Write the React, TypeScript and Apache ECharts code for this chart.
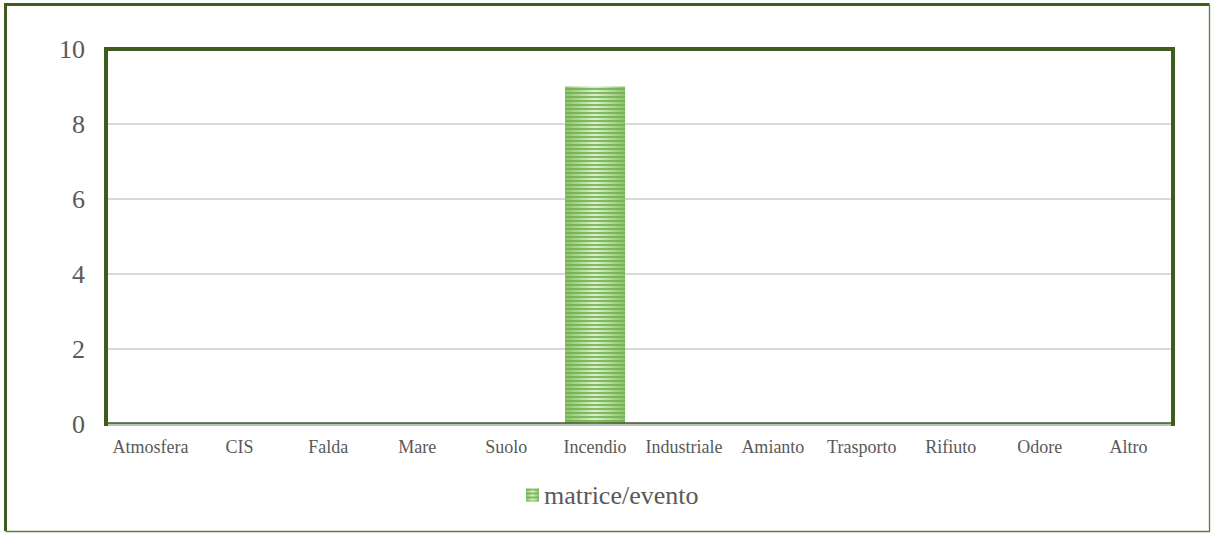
import React, { useEffect, useRef } from "react";
import * as echarts from "echarts";

const categories = [
  "Atmosfera", "CIS", "Falda", "Mare", "Suolo", "Incendio",
  "Industriale", "Amianto", "Trasporto", "Rifiuto", "Odore", "Altro",
];
const values = [0, 0, 0, 0, 0, 9, 0, 0, 0, 0, 0, 0];
const seriesName = "matrice/evento";
const yTicks = [0, 2, 4, 6, 8, 10];

const FONT = "Times New Roman, Liberation Serif, DejaVu Serif, serif";
const DARK_GREEN = "#3d5c1e";
const TEXT = "#595959";

export default function App() {
  const ref = useRef<HTMLDivElement>(null);

  useEffect(() => {
    if (!ref.current) return;
    const chart = echarts.init(ref.current, null, { renderer: "svg" });

    // light centre, darker edges, overlaid with thin horizontal stripes
    const barFill = new echarts.graphic.LinearGradient(0, 0, 1, 0, [
      { offset: 0, color: "#8cc46b" },
      { offset: 0.5, color: "#dcf0cf" },
      { offset: 1, color: "#8cc46b" },
    ]);

    chart.setOption({
      animation: false,
      backgroundColor: "#ffffff",
      textStyle: { fontFamily: FONT },
      grid: { left: 106, right: 38, top: 49, bottom: 109, show: false },
      legend: {
        data: [seriesName],
        left: 521,
        top: 477,
        icon: "rect",
        itemWidth: 13,
        itemHeight: 13,
        textStyle: { fontFamily: FONT, fontSize: 26, color: TEXT },
      },
      xAxis: {
        type: "category",
        data: categories,
        axisLine: { show: true, lineStyle: { color: "#bfbfbf", width: 3 } },
        axisTick: { show: false },
        axisLabel: {
          fontFamily: FONT,
          fontSize: 18,
          color: TEXT,
          margin: 14,
          interval: 0,
        },
      },
      yAxis: {
        type: "value",
        min: yTicks[0],
        max: yTicks[yTicks.length - 1],
        interval: 2,
        axisLine: { show: false },
        axisTick: { show: false },
        splitLine: { lineStyle: { color: "#d9d9d9", width: 2 } },
        axisLabel: { fontFamily: FONT, fontSize: 26, color: TEXT, margin: 21 },
      },
      series: [
        {
          name: seriesName,
          type: "bar",
          data: values,
          barWidth: 60,
          itemStyle: {
            color: barFill,
            decal: {
              symbol: "rect",
              symbolSize: 1,
              dashArrayX: [1, 0],
              dashArrayY: [2, 1.4],
              rotation: 0,
              color: "rgba(110, 175, 72, 0.8)",
            },
          },
        },
      ],
      graphic: [
        // outer frame
        {
          type: "polyline",
          shape: { points: [[5.5, 531], [5.5, 4.5], [1209.5, 4.5]] },
          style: { stroke: DARK_GREEN, lineWidth: 3, fill: "none" },
          silent: true,
        },
        {
          type: "polyline",
          shape: { points: [[1209.5, 4.5], [1209.5, 531.5], [5.5, 531.5]] },
          style: { stroke: "#5b7f3c", lineWidth: 1.3, fill: "none" },
          silent: true,
        },
        // plot frame
        {
          type: "polyline",
          shape: { points: [[106, 426], [106, 49], [1173, 49], [1173, 426]] },
          style: { stroke: DARK_GREEN, lineWidth: 4, fill: "none", lineJoin: "miter" },
          silent: true,
          z: 10,
        },
        {
          type: "line",
          shape: { x1: 106, y1: 423, x2: 1173, y2: 423 },
          style: { stroke: DARK_GREEN, lineWidth: 1.5 },
          silent: true,
          z: 10,
        },
      ],
    });

    return () => chart.dispose();
  }, []);

  return (
    <div
      ref={ref}
      style={{ position: "fixed", left: 0, top: 0, width: 1211, height: 533 }}
    />
  );
}
